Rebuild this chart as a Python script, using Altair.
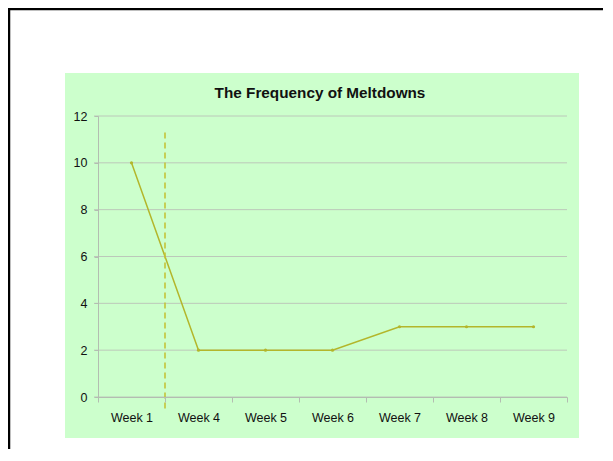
import altair as alt
import pandas as pd

weeks = ["Week 1", "Week 4", "Week 5", "Week 6", "Week 7", "Week 8", "Week 9"]
meltdowns = [10, 2, 2, 2, 3, 3, 3]
y_ticks = [0, 2, 4, 6, 8, 10, 12]
marker_week = ["Week 4"]
marker_top = [11.3]
marker_bottom = [-0.55]
title_text = "The Frequency of Meltdowns"

FONT = "Liberation Sans, Arial"
W, H = 469, 281

df = pd.DataFrame({"week": weeks, "count": meltdowns})
grid_df = pd.DataFrame({"v": y_ticks})
marker_df = pd.DataFrame({"week": marker_week, "top": marker_top, "bottom": marker_bottom})
one = pd.DataFrame({"k": [0]})

xscale = alt.Scale(domain=weeks, type="band", paddingInner=0, paddingOuter=0)
yscale = alt.Scale(domain=[0, 12], nice=False, zero=False)

border = alt.Chart(one).mark_rect(fill="white", stroke="black", strokeWidth=2.5).encode(
    x=alt.value(-89), x2=alt.value(530), y=alt.value(-107), y2=alt.value(360)
)
panel = alt.Chart(one).mark_rect(fill="#ccffcc").encode(
    x=alt.value(-33), x2=alt.value(481), y=alt.value(-43), y2=alt.value(322)
)
grid = alt.Chart(grid_df).mark_rule(color="#bcc8ba", strokeWidth=1).encode(
    y=alt.Y("v:Q", scale=yscale),
    x=alt.value(-4), x2=alt.value(W),
)
line = alt.Chart(df).mark_line(color="#b3b62b", strokeWidth=1.5).encode(
    x=alt.X("week:N", scale=xscale, bandPosition=0.5,
            axis=alt.Axis(title=None, tickBand="extent", grid=False, domainColor="#b3bdb1",
                          tickColor="#b3bdb1", tickSize=5, labelFont=FONT, labelFontSize=12.5,
                          labelColor="#111111", labelPadding=9, labelAngle=0, zindex=1)),
    y=alt.Y("count:Q", scale=yscale,
            axis=alt.Axis(title=None, values=y_ticks, grid=False, domainColor="#b3bdb1",
                          tickColor="#b3bdb1", tickSize=4, labelFont=FONT, labelFontSize=12.5,
                          labelColor="#111111", labelPadding=7, zindex=1)),
)
pts = alt.Chart(df).mark_point(filled=True, color="#b3b62b", size=10, opacity=1).encode(
    x=alt.X("week:N", scale=xscale, bandPosition=0.5),
    y=alt.Y("count:Q", scale=yscale),
)
dash = alt.Chart(marker_df).mark_rule(color="#c4c43a", strokeWidth=1.6, strokeDash=[6, 4]).encode(
    x=alt.X("week:N", scale=xscale, bandPosition=0),
    y=alt.Y("top:Q", scale=yscale),
    y2="bottom:Q",
)
title = alt.Chart(one).mark_text(text=title_text, font=FONT, fontSize=15.3, fontWeight="bold",
                                 color="#111111", align="center", baseline="alphabetic").encode(
    x=alt.value(222), y=alt.value(-18.5)
)

chart = alt.layer(border, panel, grid, line, pts, dash, title).properties(
    width=W, height=H,
    padding={"left": 90, "top": 108, "right": 36, "bottom": 52},
    autosize=alt.AutoSizeParams(type="none"),
    background="white",
).configure_view(stroke=None)

chart.save("out.html", embed_options={"renderer": "svg", "actions": False})
